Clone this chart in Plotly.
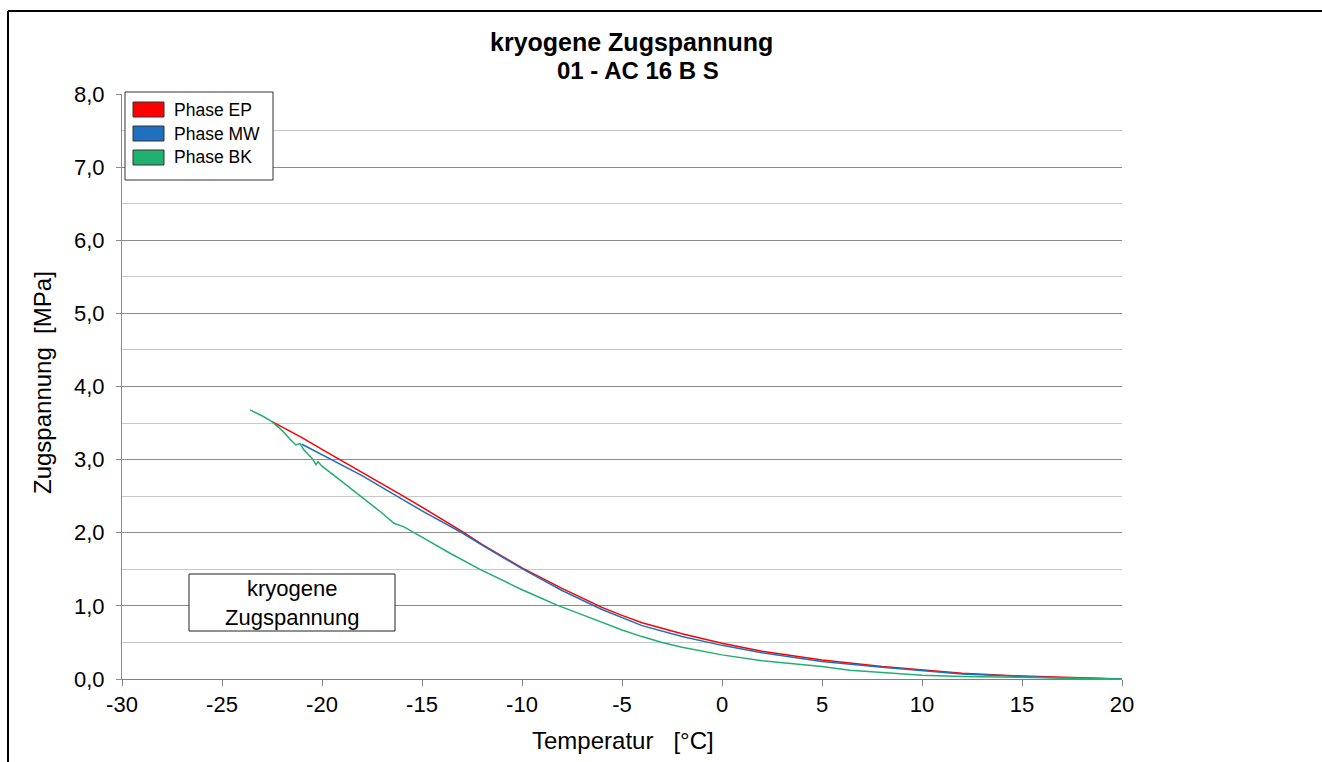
import plotly.graph_objects as go

# ---------------- data ----------------
series_names = ["Phase EP", "Phase MW", "Phase BK"]
series_colors = ["#FF0000", "#1F6FC0", "#20B070"]

ep_x = [-22.5, -21, -20, -18, -16, -15, -13, -12, -10, -8, -6, -5, -4, -2, 0, 2, 5, 8, 10, 12, 15, 17, 20]
ep_y = [3.52, 3.30, 3.14, 2.83, 2.51, 2.35, 2.02, 1.84, 1.52, 1.24, 0.98, 0.87, 0.77, 0.62, 0.49, 0.38, 0.26, 0.17, 0.12, 0.08, 0.04, 0.02, 0.0]

mw_x = [-21, -20, -18, -16, -15, -13, -12, -10, -8, -6, -5, -4, -2, 0, 2, 5, 8, 10, 12, 15, 17, 20]
mw_y = [3.21, 3.07, 2.78, 2.46, 2.30, 2.00, 1.83, 1.51, 1.21, 0.95, 0.84, 0.73, 0.58, 0.46, 0.36, 0.24, 0.16, 0.11, 0.07, 0.035, 0.015, 0.0]

bk_x = [-23.6, -23.0, -22.5, -22.0, -21.5, -21.3, -21.1, -20.9, -20.5, -20.3, -20.2, -20.0, -19.0,
        -17.9, -17.0, -16.4, -15.9, -15.0, -14.3, -13.6, -12.1, -11.0, -10.0, -9.0, -8.25, -7.0,
        -6.0, -5.0, -4.0, -3.0, -2.0, -1.0, 0, 2, 5, 6.4, 7.9, 10, 12, 15, 17, 20]
bk_y = [3.68, 3.60, 3.52, 3.40, 3.25, 3.20, 3.22, 3.13, 3.02, 2.93, 2.97, 2.91, 2.70,
        2.47, 2.27, 2.13, 2.08, 1.94, 1.83, 1.72, 1.50, 1.35, 1.22, 1.10, 1.01, 0.88,
        0.77, 0.67, 0.58, 0.50, 0.435, 0.38, 0.33, 0.25, 0.17, 0.12, 0.09, 0.05, 0.035, 0.02, 0.01, 0.0]

x_ticks = [-30, -25, -20, -15, -10, -5, 0, 5, 10, 15, 20]
x_ticklabels = ["-30", "-25", "-20", "-15", "-10", "-5", "0", "5", "10", "15", "20"]
y_ticks = [0, 1, 2, 3, 4, 5, 6, 7, 8]
y_ticklabels = ["0,0", "1,0", "2,0", "3,0", "4,0", "5,0", "6,0", "7,0", "8,0"]

title_line1 = "kryogene Zugspannung"
title_line2 = "01 - AC 16 B S"
x_title = "Temperatur   [°C]"
y_title = "Zugspannung  [MPa]"
box_text = "kryogene<br>Zugspannung"

# ---------------- layout geometry (pixels) ----------------
W, H = 1322, 762
L, R, T, B = 122, 1122, 94, 679  # plot area
FONT = "Liberation Sans, Arial, sans-serif"


def px(xp):
    return (xp - L) / (R - L)


def py(yp):
    return (B - yp) / (B - T)


fig = go.Figure()
for xs, ys, name, col in [(ep_x, ep_y, series_names[0], series_colors[0]),
                          (mw_x, mw_y, series_names[1], series_colors[1]),
                          (bk_x, bk_y, series_names[2], series_colors[2])]:
    fig.add_trace(go.Scatter(x=xs, y=ys, mode="lines", name=name,
                             line=dict(color=col, width=1.5), showlegend=False))

shapes = []
annotations = []

# outer frame (top and left lines)
shapes.append(dict(type="line", xref="paper", yref="paper",
                   x0=px(8), y0=py(11), x1=px(1322), y1=py(11),
                   line=dict(color="#000000", width=2)))
shapes.append(dict(type="line", xref="paper", yref="paper",
                   x0=px(8), y0=py(11), x1=px(8), y1=py(762),
                   line=dict(color="#000000", width=2)))

# legend box
shapes.append(dict(type="rect", xref="paper", yref="paper",
                   x0=px(125), y0=py(92), x1=px(273), y1=py(180),
                   line=dict(color="#333333", width=1), fillcolor="#FFFFFF", layer="above"))
sw_tops = [102, 126, 150]
for i, (nm, col) in enumerate(zip(series_names, series_colors)):
    t = sw_tops[i]
    shapes.append(dict(type="rect", xref="paper", yref="paper",
                       x0=px(133), y0=py(t), x1=px(164), y1=py(t + 15),
                       line=dict(color="#333333", width=1), fillcolor=col, layer="above"))
    annotations.append(dict(xref="paper", yref="paper", x=px(172), y=py(t + 7.5),
                            text=nm, showarrow=False, xanchor="left", yanchor="middle",
                            font=dict(family=FONT, size=17.5, color="#000000")))

# text box
shapes.append(dict(type="rect", xref="paper", yref="paper",
                   x0=px(189), y0=py(574), x1=px(395), y1=py(631),
                   line=dict(color="#222222", width=1), fillcolor="#FFFFFF", layer="above"))
annotations.append(dict(xref="paper", yref="paper", x=px(292), y=py(602.5),
                        text=box_text, showarrow=False, xanchor="center", yanchor="middle",
                        align="center",
                        font=dict(family=FONT, size=22, color="#000000")))

# title
annotations.append(dict(xref="paper", yref="paper", x=px(631), y=py(42),
                        text="<b>" + title_line1 + "</b>", showarrow=False,
                        xanchor="center", yanchor="middle",
                        font=dict(family=FONT, size=25, color="#000000")))
annotations.append(dict(xref="paper", yref="paper", x=px(638), y=py(71),
                        text="<b>" + title_line2 + "</b>", showarrow=False,
                        xanchor="center", yanchor="middle",
                        font=dict(family=FONT, size=24, color="#000000")))

# axis titles
annotations.append(dict(xref="paper", yref="paper", x=px(623), y=py(740),
                        text=x_title, showarrow=False, xanchor="center", yanchor="middle",
                        font=dict(family=FONT, size=24, color="#000000")))
annotations.append(dict(xref="paper", yref="paper", x=px(42), y=py(383),
                        text=y_title, showarrow=False, xanchor="center", yanchor="middle",
                        textangle=-90,
                        font=dict(family=FONT, size=24, color="#000000")))

fig.update_layout(
    width=W, height=H, autosize=False,
    margin=dict(l=L, r=W - R, t=T, b=H - B, pad=0),
    paper_bgcolor="#FFFFFF", plot_bgcolor="#FFFFFF",
    showlegend=False,
    shapes=shapes, annotations=annotations,
    font=dict(family=FONT, color="#000000"),
    xaxis=dict(range=[-30, 20], tickvals=x_ticks, ticktext=x_ticklabels,
               showgrid=False, zeroline=False, showline=True, linecolor="#808080",
               linewidth=1, ticks="outside", ticklen=6, tickcolor="#808080",
               tickfont=dict(family=FONT, size=22, color="#000000")),
    yaxis=dict(range=[0, 8], tickvals=y_ticks, ticktext=y_ticklabels,
               showgrid=True, gridcolor="#8C8C8C", gridwidth=1,
               zeroline=False, showline=True, linecolor="#8C8C8C", linewidth=1,
               ticks="outside", ticklen=5, tickcolor="#8C8C8C", ticklabelstandoff=7,
               tickfont=dict(family=FONT, size=22, color="#000000"),
               minor=dict(dtick=0.5, showgrid=True, gridcolor="#C8C8C8", gridwidth=1, ticks="")),
)

fig.write_html("out.html")
